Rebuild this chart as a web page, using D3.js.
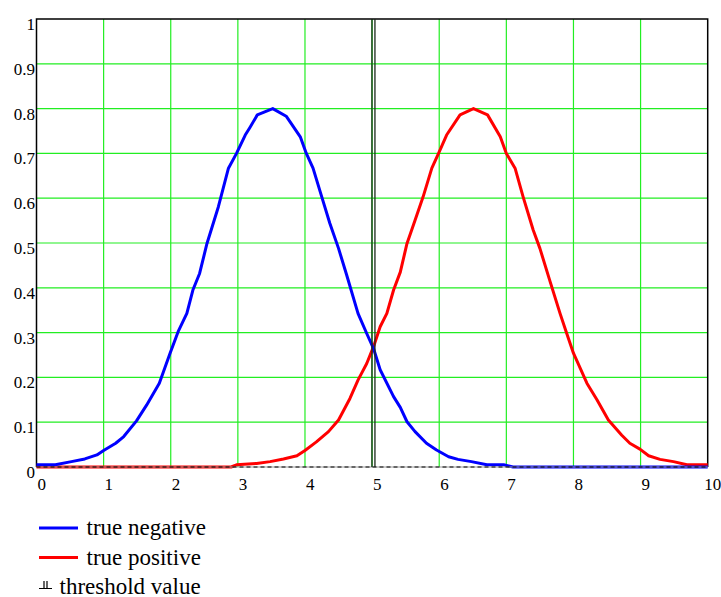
<!DOCTYPE html>
<html>
<head>
<meta charset="utf-8">
<script src="https://cdn.jsdelivr.net/npm/d3@7"></script>
<style>
  html, body { margin: 0; padding: 0; background: #fff; }
  svg { display: block; }
</style>
</head>
<body>
<svg id="chart" width="721" height="597"></svg>
<script>
// ---- data ----
const xTicks = [0, 1, 2, 3, 4, 5, 6, 7, 8, 9, 10];
const yTicks = [0, 0.1, 0.2, 0.3, 0.4, 0.5, 0.6, 0.7, 0.8, 0.9, 1];
const yTickLabels = ["0", "0.1", "0.2", "0.3", "0.4", "0.5", "0.6", "0.7", "0.8", "0.9", "1"];

const negX = [0, 0.28, 0.52, 0.72, 0.90, 1.0, 1.18, 1.3, 1.49, 1.64, 1.83, 1.99, 2.11, 2.24, 2.33, 2.43, 2.54, 2.71, 2.86, 2.98, 3.11, 3.18, 3.29, 3.52, 3.72, 3.93, 4.02, 4.12, 4.25, 4.37, 4.50, 4.62, 4.79, 4.92, 5.02, 5.12, 5.32, 5.42, 5.52, 5.64, 5.81, 5.96, 6.14, 6.28, 6.48, 6.71, 6.96, 7.1, 10];
const negY = [0.005, 0.005, 0.012, 0.018, 0.027, 0.037, 0.053, 0.068, 0.103, 0.138, 0.187, 0.254, 0.302, 0.343, 0.395, 0.432, 0.499, 0.581, 0.667, 0.700, 0.741, 0.758, 0.786, 0.800, 0.783, 0.737, 0.700, 0.667, 0.603, 0.544, 0.488, 0.429, 0.343, 0.298, 0.265, 0.217, 0.157, 0.133, 0.101, 0.079, 0.053, 0.038, 0.023, 0.017, 0.012, 0.005, 0.005, 0, 0];

const posX = [0, 2.9, 2.98, 3.28, 3.48, 3.68, 3.88, 4.0, 4.17, 4.35, 4.50, 4.67, 4.79, 4.92, 5.02, 5.12, 5.22, 5.32, 5.42, 5.52, 5.64, 5.76, 5.89, 5.99, 6.11, 6.31, 6.51, 6.72, 6.91, 7.0, 7.13, 7.25, 7.40, 7.50, 7.65, 7.80, 7.90, 8.0, 8.20, 8.35, 8.52, 8.72, 8.84, 8.99, 9.12, 9.29, 9.49, 9.69, 10];
const posY = [0, 0, 0.005, 0.008, 0.012, 0.018, 0.025, 0.037, 0.056, 0.079, 0.105, 0.153, 0.194, 0.231, 0.268, 0.313, 0.343, 0.395, 0.435, 0.499, 0.551, 0.603, 0.667, 0.700, 0.741, 0.786, 0.800, 0.786, 0.737, 0.700, 0.667, 0.603, 0.529, 0.488, 0.415, 0.343, 0.298, 0.254, 0.187, 0.150, 0.105, 0.071, 0.053, 0.040, 0.025, 0.017, 0.012, 0.005, 0.005];

const threshold = 5.02;
const legendLabels = ["true negative", "true positive", "threshold value"];

// ---- layout ----
const svg = d3.select("#chart");
const x = d3.scaleLinear().domain([0, 10]).range([36.5, 707.7]);
const y = d3.scaleLinear().domain([0, 1]).range([467, 19]);
const font = '"Liberation Serif"';

// grid
const grid = svg.append("g");
grid.selectAll("line.v").data(xTicks.slice(1, -1)).join("line")
  .attr("x1", d => x(d)).attr("x2", d => x(d))
  .attr("y1", y(1)).attr("y2", y(0))
  .attr("stroke", "#22ee22").attr("stroke-width", 1.2);
grid.selectAll("line.h").data(yTicks.slice(1, -1)).join("line")
  .attr("x1", x(0)).attr("x2", x(10))
  .attr("y1", d => y(d)).attr("y2", d => y(d))
  .attr("stroke", "#22ee22").attr("stroke-width", 1.2);

// frame (top, left, right)
svg.append("path")
  .attr("d", `M${x(0)},${y(0)}V${y(1)}H${x(10)}V${y(0)}`)
  .attr("fill", "none").attr("stroke", "#000").attr("stroke-width", 1.5);

// curves
const line = d3.line().x(d => x(d[0])).y(d => y(d[1]));
const neg = negX.map((v, i) => [v, negY[i]]);
const pos = posX.map((v, i) => [v, posY[i]]);
svg.append("path").datum(pos).attr("d", line)
  .attr("fill", "none").attr("stroke", "#ff0000").attr("stroke-width", 3).attr("stroke-linejoin", "round");
svg.append("path").datum(neg).attr("d", line)
  .attr("fill", "none").attr("stroke", "#0000ff").attr("stroke-width", 3).attr("stroke-linejoin", "round");

// bottom axis line (grey) with black dashes
svg.append("line").attr("x1", x(0)).attr("x2", x(10)).attr("y1", y(0)).attr("y2", y(0))
  .attr("stroke", "#999").attr("stroke-width", 1.2);
svg.append("line").attr("x1", x(0)).attr("x2", x(10)).attr("y1", y(0)).attr("y2", y(0))
  .attr("stroke", "#000").attr("stroke-width", 1.2).attr("stroke-dasharray", "4,3");

// threshold marker
[-1.5, 1.5].forEach(o => {
  svg.append("line")
    .attr("x1", x(threshold) + o).attr("x2", x(threshold) + o)
    .attr("y1", y(1)).attr("y2", y(0))
    .attr("stroke", "#1a2a1a").attr("stroke-width", 1.3);
});

// axes
const yAxis = d3.axisLeft(y).tickValues(yTicks).tickSize(0).tickPadding(0)
  .tickFormat((d, i) => yTickLabels[i]);
const gy = svg.append("g").attr("transform", `translate(35,0)`).call(yAxis);
gy.select(".domain").remove();
gy.selectAll("text").style("font-family", font).style("font-size", "17px")
  .attr("fill", "#000").attr("x", 0).attr("dy", 10.5).attr("text-anchor", "end");

const xAxis = d3.axisBottom(x).tickValues(xTicks).tickSize(0).tickPadding(0)
  .tickFormat(d => String(d));
const gx = svg.append("g").attr("transform", `translate(0,490)`).call(xAxis);
gx.select(".domain").remove();
gx.selectAll("text").style("font-family", font).style("font-size", "17px")
  .attr("fill", "#000").attr("y", 0).attr("dy", 0)
  .attr("x", d => d === 10 ? -4 : 0.5).attr("text-anchor", "start");

// legend
const lg = svg.append("g");
const rowsY = [535, 565, 594];
lg.append("line").attr("x1", 39).attr("x2", 78).attr("y1", 528).attr("y2", 528)
  .attr("stroke", "#0000ff").attr("stroke-width", 3);
lg.append("line").attr("x1", 39).attr("x2", 78).attr("y1", 557.5).attr("y2", 557.5)
  .attr("stroke", "#ff0000").attr("stroke-width", 3);
// threshold symbol
lg.append("path").attr("d", "M39,588.5H52M44,581V588.5M47,581V588.5")
  .attr("fill", "none").attr("stroke", "#000").attr("stroke-width", 1.2);
lg.selectAll("text").data(legendLabels).join("text")
  .attr("x", (d, i) => i < 2 ? 86.5 : 59.5)
  .attr("y", (d, i) => rowsY[i])
  .style("font-family", font).style("font-size", "23px").attr("fill", "#000")
  .text(d => d);
</script>
</body>
</html>
